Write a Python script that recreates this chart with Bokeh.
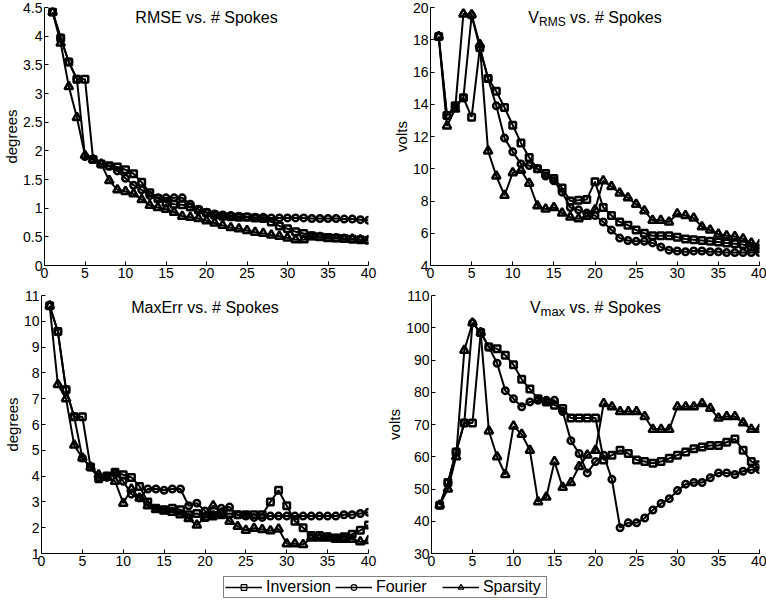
from bokeh.plotting import figure
from bokeh.layouts import column, row
from bokeh.models import (Range1d, SingleIntervalTicker, CustomJSTickFormatter,
                          Label, Legend, LegendItem)
from bokeh.embed import file_html
from bokeh.resources import INLINE

FONT = "Liberation Sans"

spokes = list(range(1, 41))

rmse_inversion = [4.42, 3.97, 3.55, 3.25, 3.25, 1.85, 1.77, 1.74, 1.72, 1.67,
                  1.60, 1.45, 1.27, 1.17, 1.10, 1.07, 1.06, 1.02, 0.97, 0.92,
                  0.88, 0.86, 0.85, 0.84, 0.84, 0.83, 0.82, 0.76, 0.69, 0.64,
                  0.59, 0.56, 0.52, 0.50, 0.49, 0.48, 0.47, 0.46, 0.45, 0.44]
rmse_fourier = [4.42, 3.97, 3.55, 3.25, 1.90, 1.85, 1.77, 1.73, 1.65, 1.52,
                1.40, 1.32, 1.22, 1.18, 1.18, 1.18, 1.18, 1.07, 0.98, 0.93,
                0.90, 0.88, 0.87, 0.86, 0.85, 0.84, 0.84, 0.83, 0.83, 0.83,
                0.83, 0.83, 0.82, 0.82, 0.82, 0.82, 0.81, 0.81, 0.80, 0.79]
rmse_sparsity = [4.42, 3.88, 3.12, 2.58, 1.92, 1.85, 1.77, 1.48, 1.32, 1.29,
                 1.25, 1.15, 1.05, 1.01, 0.98, 0.93, 0.86, 0.84, 0.82, 0.78,
                 0.74, 0.70, 0.66, 0.64, 0.61, 0.58, 0.56, 0.53, 0.51, 0.48,
                 0.45, 0.45, 0.50, 0.49, 0.47, 0.47, 0.46, 0.46, 0.45, 0.44]

vrms_inversion = [18.2, 13.3, 13.9, 14.4, 13.2, 17.5, 15.6, 14.8, 13.8, 12.7,
                  11.6, 10.7, 10.0, 9.7, 9.4, 8.8, 8.0, 8.05, 8.1, 9.2,
                  7.6, 7.1, 6.7, 6.5, 6.2, 6.0, 5.85, 5.85, 5.85, 5.75,
                  5.65, 5.6, 5.55, 5.5, 5.45, 5.4, 5.35, 5.3, 5.15, 5.05]
vrms_fourier = [18.2, 13.3, 13.8, 14.4, 19.5, 17.5, 15.6, 13.9, 11.9, 11.05,
                10.3, 10.2, 10.0, 9.55, 9.25, 8.55, 7.6, 7.45, 7.25, 7.1,
                6.7, 6.2, 5.7, 5.55, 5.5, 5.5, 5.4, 5.15, 4.95, 4.9,
                4.85, 4.9, 4.9, 4.85, 4.85, 4.8, 4.8, 4.8, 4.8, 4.8]
vrms_sparsity = [18.2, 12.65, 13.7, 19.6, 19.55, 17.7, 11.1, 9.55, 8.35, 9.75,
                 9.9, 9.1, 7.7, 7.5, 7.6, 7.25, 7.0, 6.9, 7.05, 7.45,
                 9.25, 8.9, 8.5, 8.2, 7.8, 7.4, 6.8, 6.8, 6.7, 7.2,
                 7.1, 6.95, 6.4, 6.2, 5.95, 5.85, 5.8, 5.65, 5.4, 5.3]

maxerr_inversion = [10.6, 9.6, 7.35, 6.3, 6.3, 4.35, 3.9, 4.0, 4.15, 4.05,
                    3.95, 3.6, 3.0, 2.75, 2.7, 2.75, 2.7, 2.5, 2.55, 2.4,
                    2.45, 2.5, 2.55, 2.5, 2.5, 2.5, 2.5, 3.0, 3.45, 2.85,
                    2.25, 2.0, 1.7, 1.7, 1.65, 1.6, 1.65, 1.75, 1.9, 2.1]
maxerr_fourier = [10.6, 9.6, 7.35, 6.3, 4.7, 4.35, 3.95, 3.95, 4.1, 3.8,
                  3.3, 3.15, 3.5, 3.5, 3.45, 3.5, 3.5, 2.85, 2.95, 2.65,
                  2.5, 2.75, 2.8, 2.5, 2.45, 2.4, 2.4, 2.45, 2.45, 2.45,
                  2.45, 2.45, 2.45, 2.45, 2.45, 2.45, 2.5, 2.5, 2.55, 2.6]
maxerr_sparsity = [10.6, 7.55, 7.0, 5.2, 4.7, 4.35, 4.05, 3.95, 3.8, 2.95,
                   3.5, 3.15, 2.85, 2.7, 2.65, 2.6, 2.5, 2.35, 2.1, 2.4,
                   2.85, 2.55, 2.25, 2.05, 1.9, 1.98, 1.93, 1.88, 1.95, 1.38,
                   1.38, 1.35, 1.6, 1.6, 1.6, 1.55, 1.55, 1.55, 1.45, 1.5]

vmax_inversion = [45, 52, 61.5, 70.5, 70.5, 98.5, 94, 93.5, 91.5, 88.5,
                  84, 81, 78, 77, 76, 75, 72, 72, 72, 72,
                  59, 60.5, 62, 61, 59, 58.5, 58, 58.5, 59.5, 60.5,
                  61.5, 62.5, 63, 63.5, 63.5, 64.5, 65.5, 62, 58.5, 57.5]
vmax_fourier = [45, 52, 61.5, 70.5, 101.5, 98.5, 94, 89, 80.5, 78,
                75.5, 77, 77.5, 77.5, 77.5, 74, 65, 61, 55, 58.5,
                60.5, 53, 38, 39.5, 39.5, 41, 43.5, 45.5, 47, 49.5,
                51.5, 52, 52, 53.5, 55, 55, 54.5, 55.5, 56, 56]
vmax_sparsity = [45, 50, 60, 93, 101.5, 98.5, 68, 60, 54.5, 69.5,
                 67, 62, 46, 47.5, 58.5, 50.5, 52, 57, 60.5, 62,
                 76.5, 75.5, 74, 74, 74, 72.5, 68.5, 68.5, 68.5, 75.5,
                 75.5, 75.5, 76.5, 75, 72, 72.5, 72.5, 70.5, 68.5, 68.5]

series_names = ["Inversion", "Fourier", "Sparsity"]
series_markers = ["square", "circle", "triangle"]
marker_sizes = [6.5, 6.5, 8.5]

# Arial / Liberation Sans advance widths (per 1000 em)
AW = {" ": 278, "#": 556, ".": 278, "E": 667, "M": 833, "R": 722, "S": 667,
      "V": 667, "a": 556, "e": 556, "k": 500, "m": 833, "o": 556, "p": 556,
      "r": 333, "s": 500, "v": 500, "x": 500}


def text_width(t, size):
    return sum(AW.get(c, 556) for c in t) * size / 1000.0


def add_title(p, parts, xc, yc):
    # parts: (text, font px, baseline drop below frame top, extra gap before)
    widths = [text_width(t, s) + g for t, s, _, g in parts]
    off = -sum(widths) / 2.0
    for (t, s, dy, g), w in zip(parts, widths):
        p.add_layout(Label(x=xc, y=yc, text=t, x_offset=off + g, y_offset=-dy,
                           text_font=FONT, text_font_size=f"{s}px",
                           text_align="left", text_baseline="alphabetic",
                           text_color="black"))
        off += w


def make_panel(width, height, yr, ystep, ylabel, btop, bright, bleft, title_parts, data):
    p = figure(width=width, height=height, output_backend="svg", toolbar_location=None,
               x_range=Range1d(0, 40), y_range=Range1d(*yr),
               min_border_top=btop, min_border_bottom=20,
               min_border_left=bleft, min_border_right=bright)
    p.outline_line_color = None
    p.grid.visible = False
    p.background_fill_color = "white"
    p.border_fill_color = "white"
    p.xaxis.ticker = SingleIntervalTicker(interval=5, num_minor_ticks=0)
    p.yaxis.ticker = SingleIntervalTicker(interval=ystep, num_minor_ticks=0)
    p.yaxis.axis_label = ylabel
    for ax in (p.xaxis[0], p.yaxis[0]):
        ax.formatter = CustomJSTickFormatter(code="return tick.toString();")
        ax.axis_line_color = "black"
        ax.axis_line_width = 1
        ax.major_tick_in = 4
        ax.major_tick_out = 0
        ax.major_tick_line_color = "black"
        ax.minor_tick_line_color = None
        ax.major_label_text_font = FONT
        ax.major_label_text_font_size = "14px"
        ax.major_label_text_color = "black"
        ax.major_label_standoff = 2
        ax.axis_label_text_font = FONT
        ax.axis_label_text_font_size = "15px"
        ax.axis_label_text_font_style = "normal"
        ax.axis_label_text_color = "black"
        ax.axis_label_standoff = 0
    for vals, mk, ms in zip(data, series_markers, marker_sizes):
        p.line(spokes, vals, line_color="black", line_width=2)
        p.scatter(spokes, vals, marker=mk, size=ms, line_color="black",
                  line_width=2.5, fill_alpha=0)
    add_title(p, title_parts, 20, yr[1])
    return p


p1 = make_panel(383, 285, (0, 4.5), 0.5, "degrees", 7, 15, 30,
                [("RMSE vs. # Spokes", 16, 10, 0)],
                [rmse_inversion, rmse_fourier, rmse_sparsity])
p2 = make_panel(383, 285, (4, 20), 2, "volts", 7, 7, 47,
                [("V", 16, 10, 0), ("RMS", 12, 14, 0), ("vs. # Spokes", 16, 10, 4.4)],
                [vrms_inversion, vrms_fourier, vrms_sparsity])
p3 = make_panel(383, 288, (1, 11), 1, "degrees", 10, 15, 30,
                [("MaxErr vs. # Spokes", 16, 12, 0)],
                [maxerr_inversion, maxerr_fourier, maxerr_sparsity])
p4 = make_panel(383, 288, (30, 110), 10, "volts", 10, 7, 47,
                [("V", 16, 12, 0), ("max", 13, 16, 0), ("vs. # Spokes", 16, 12, 4.4)],
                [vmax_inversion, vmax_fourier, vmax_sparsity])

# Legend strip: renderers draw the series outside the visible range, only
# their legend glyphs are seen.
lf = figure(width=766, height=30, output_backend="svg", toolbar_location=None,
            x_axis_type=None, y_axis_type=None,
            x_range=Range1d(-20, -10), y_range=Range1d(-20, -10),
            min_border_left=0, min_border_right=0, min_border_top=0, min_border_bottom=0)
lf.outline_line_color = None
lf.grid.visible = False
items = []
for name, mk, vals in zip(series_names, series_markers,
                          [rmse_inversion, rmse_fourier, rmse_sparsity]):
    lr = lf.line(spokes, vals, line_color="black", line_width=1.5)
    sr = lf.scatter(spokes, vals, marker=mk, size=6, line_color="black",
                    line_width=1.2, fill_alpha=0)
    items.append(LegendItem(label=name, renderers=[lr, sr]))
leg = Legend(items=items, orientation="horizontal", location=(223, 5),
             label_text_font=FONT, label_text_font_size="16px", label_text_color="black",
             glyph_width=37, glyph_height=14, label_height=14, label_width=62,
             label_standoff=4, spacing=4, padding=1, margin=0,
             border_line_color="black", border_line_width=1,
             background_fill_color="white", background_fill_alpha=1)
lf.add_layout(leg, "center")

layout = column(row(p1, p2), row(p3, p4), lf)

open("out.html", "w").write(file_html(layout, INLINE))
